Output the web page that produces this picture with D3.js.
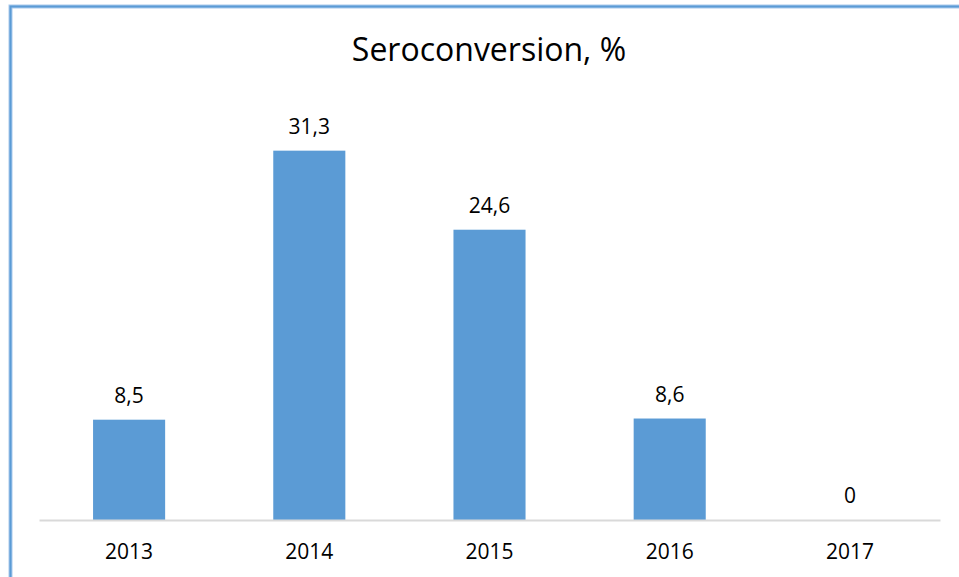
<!DOCTYPE html>
<html>
<head>
<meta charset="utf-8">
<script src="https://cdn.jsdelivr.net/npm/d3@7"></script>
<style>
  body { margin: 0; background: #fff; }
  text { font-family: "Open Sans", Lato, sans-serif; fill: #000; }
</style>
</head>
<body>
<div id="chart"></div>
<script>
var svgWidth = 959;
var svgHeight = 577;

// data
var years = ["2013", "2014", "2015", "2016", "2017"];
var values = [8.5, 31.3, 24.6, 8.6, 0];
var valueLabels = ["8,5", "31,3", "24,6", "8,6", "0"];

var margin = { top: 107, right: 19, bottom: 57, left: 39 };
var width = svgWidth - margin.left - margin.right;
var height = svgHeight - margin.top - margin.bottom;

var svg = d3.select("#chart")
  .append("svg")
  .attr("width", svgWidth)
  .attr("height", svgHeight);

// chart frame (runs off the right and bottom of the picture)
svg.append("rect")
  .attr("x", 10.5)
  .attr("y", 6.5)
  .attr("width", 1000)
  .attr("height", 1000)
  .attr("fill", "none")
  .attr("stroke", "#a9c9ec")
  .attr("stroke-width", 4);
svg.append("rect")
  .attr("x", 10.5)
  .attr("y", 6.5)
  .attr("width", 1000)
  .attr("height", 1000)
  .attr("fill", "none")
  .attr("stroke", "#5b9bd5")
  .attr("stroke-width", 2);

var chartGroup = svg.append("g")
  .attr("transform", `translate(${margin.left}, ${margin.top})`);

var xScale = d3.scaleBand()
  .domain(years)
  .range([0, width])
  .paddingInner(0.6)
  .paddingOuter(0.3);

var yScale = d3.scaleLinear()
  .domain([0, 35])
  .range([height, 0]);

// bars
chartGroup.selectAll("rect.bar")
  .data(values)
  .enter()
  .append("rect")
  .attr("class", "bar")
  .attr("x", (d, i) => xScale(years[i]))
  .attr("y", d => yScale(d))
  .attr("width", xScale.bandwidth())
  .attr("height", d => height - yScale(d))
  .attr("fill", "#5b9bd5");

// x axis
var xAxis = chartGroup.append("g")
  .attr("transform", `translate(0, ${height})`)
  .call(d3.axisBottom(xScale).tickSize(0).tickPadding(24));
xAxis.select(".domain").attr("stroke", "#d9d9d9").attr("stroke-width", 2);
xAxis.selectAll("text")
  .attr("font-size", "21px")
  .attr("font-family", "'Open Sans', sans-serif")
  .attr("fill", "#000");

// value labels
chartGroup.selectAll("text.val")
  .data(values)
  .enter()
  .append("text")
  .attr("class", "val")
  .attr("x", (d, i) => xScale(years[i]) + xScale.bandwidth() / 2)
  .attr("y", d => yScale(d) - 17)
  .attr("text-anchor", "middle")
  .attr("font-size", "21px")
  .text((d, i) => valueLabels[i]);

// title
svg.append("text")
  .attr("x", 489)
  .attr("y", 61)
  .attr("text-anchor", "middle")
  .attr("font-size", "32px")
  .text("Seroconversion, %");
</script>
</body>
</html>
